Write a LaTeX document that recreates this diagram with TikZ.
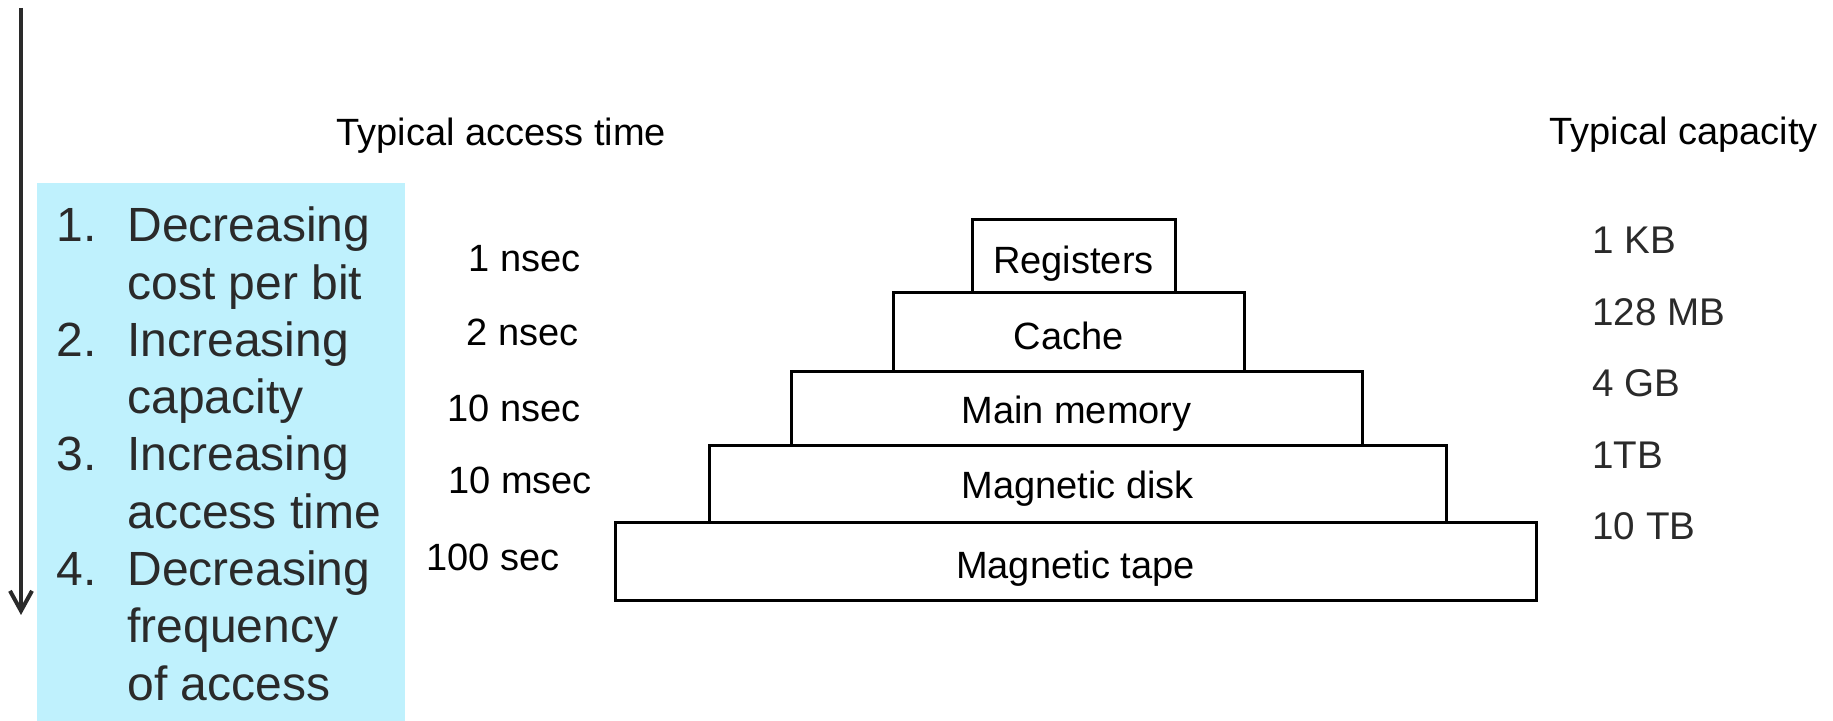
\documentclass[tikz,border=0pt]{standalone}
\usepackage{fontspec}
\setmainfont{Liberation Sans}
\usetikzlibrary{arrows.meta}
\definecolor{listbg}{RGB}{191,241,253}
\definecolor{txtgray}{RGB}{42,42,42}
\tikzset{
  lbl/.style={anchor=base west, inner sep=0pt, font=\fontsize{19pt}{23pt}\selectfont},
  capacitylbl/.style={lbl, text=txtgray, font=\fontsize{19.3pt}{23pt}\selectfont},
  listtxt/.style={anchor=base west, inner sep=0pt, text=txtgray, font=\fontsize{24pt}{28pt}\selectfont},
  tier/.style={draw=black, line width=1.5pt, inner sep=0pt, text height=13.6pt, text depth=0pt,
     font=\fontsize{19pt}{23pt}\selectfont},
  trend/.style={draw=txtgray, line width=2pt, -{Straight Barb[length=10pt, width=11pt, line width=2pt]}}
}
\begin{document}
\begin{tikzpicture}[x=0.5pt, y=-0.5pt]
\useasboundingbox (0,0) rectangle (1833,721);
% blue list box
\fill[listbg] (37,183) rectangle (405,721);
% arrow
\coordinate (atop) at (21,8);
\coordinate (atip) at (21,615);
\draw[trend] (atop) -- (atip);
% list
\node[listtxt] (n1) at (56,242) {1.};
\node[listtxt] (l1) at (127,242) {Decreasing};
\node[listtxt] (l2) at (127,299.25) {cost per bit};
\node[listtxt] (n2) at (56,356.5) {2.};
\node[listtxt] (l3) at (127,356.5) {Increasing};
\node[listtxt] (l4) at (127,413.75) {capacity};
\node[listtxt] (n3) at (56,471) {3.};
\node[listtxt] (l5) at (127,471) {Increasing};
\node[listtxt] (l6) at (127,528.25) {access time};
\node[listtxt] (n4) at (56,585.5) {4.};
\node[listtxt] (l7) at (127,585.5) {Decreasing};
\node[listtxt] (l8) at (127,642.75) {frequency};
\node[listtxt] (l9) at (127,700) {of access};
% headers
\node[lbl] (hat) at (336,146) {Typical access time};
\node[lbl] (hcap) at (1549,145) {Typical capacity};
% access times
\node[lbl] (t1) at (468,272) {1 nsec};
\node[lbl] (t2) at (466,346) {2 nsec};
\node[lbl] (t3) at (447,422) {10 nsec};
\node[lbl] (t4) at (448,494) {10 msec};
\node[lbl] (t5) at (426,571) {100 sec};
% capacities
\node[capacitylbl] (c1) at (1592,254) {1 KB};
\node[capacitylbl] (c2) at (1592,325.5) {128 MB};
\node[capacitylbl] (c3) at (1592,397) {4 GB};
\node[capacitylbl] (c4) at (1592,468.5) {1TB};
\node[capacitylbl] (c5) at (1592,540) {10 TB};
% pyramid
\node[tier, text height=17pt, minimum width=101.5pt, minimum height=36.5pt] (reg) at (1073.5,256.5) {Registers};
\node[tier, text height=17pt, minimum width=175.5pt, minimum height=39.5pt] (cache) at (1068.5,332.5) {Cache};
\node[tier, text height=14.2pt, minimum width=285.5pt, minimum height=37pt] (mem) at (1076.5,409) {Main memory};
\node[tier, text height=14.2pt, minimum width=368.5pt, minimum height=38.5pt] (disk) at (1077.5,484.5) {Magnetic disk};
\node[tier, text height=17pt, minimum width=460.5pt, minimum height=39pt] (tape) at (1075.5,562) {Magnetic tape};
\end{tikzpicture}
\end{document}
